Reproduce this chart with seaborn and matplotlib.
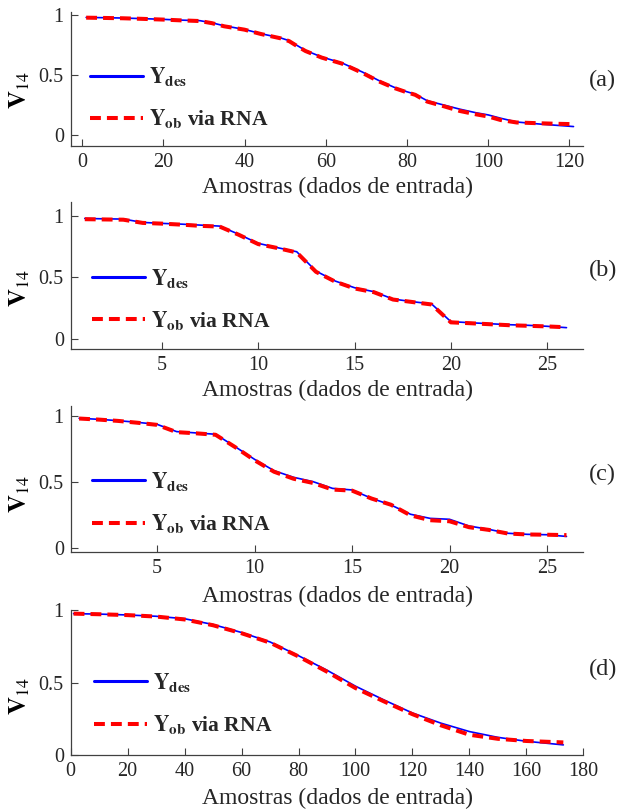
import matplotlib
matplotlib.use("Agg")
import matplotlib.pyplot as plt
import seaborn as sns

sns.set_style("ticks")
plt.rcParams["font.family"] = ["Liberation Serif", "DejaVu Serif"]
plt.rcParams["mathtext.fontset"] = "stix"

# (a)
x_a = [1, 5, 10, 15, 20, 24, 29, 32, 35, 40, 44, 49, 51, 53, 55, 59, 64, 69, 73, 77,
       80, 82, 85, 89, 93, 97, 100, 103, 107, 113, 117, 121]
des_a = [0.980, 0.978, 0.975, 0.970, 0.964, 0.958, 0.953, 0.935, 0.910, 0.880, 0.845,
         0.808, 0.786, 0.745, 0.705, 0.650, 0.600, 0.525, 0.455, 0.395, 0.360, 0.340,
         0.285, 0.250, 0.215, 0.185, 0.167, 0.140, 0.108, 0.090, 0.080, 0.070]
ob_a = [0.978, 0.976, 0.973, 0.968, 0.962, 0.956, 0.950, 0.932, 0.906, 0.878, 0.842,
        0.805, 0.782, 0.740, 0.700, 0.645, 0.595, 0.518, 0.448, 0.390, 0.355, 0.335,
        0.278, 0.240, 0.200, 0.172, 0.154, 0.125, 0.104, 0.097, 0.093, 0.090]

# (b)
x_b = list(range(1, 27))
des_b = [0.978, 0.975, 0.973, 0.946, 0.938, 0.932, 0.924, 0.916, 0.849, 0.776, 0.741,
         0.708, 0.551, 0.470, 0.416, 0.384, 0.324, 0.303, 0.284, 0.141, 0.132, 0.124,
         0.116, 0.111, 0.103, 0.092]
ob_b = [0.972, 0.970, 0.968, 0.942, 0.936, 0.928, 0.918, 0.912, 0.845, 0.770, 0.738,
        0.702, 0.545, 0.465, 0.410, 0.380, 0.320, 0.300, 0.280, 0.135, 0.128, 0.120,
        0.112, 0.107, 0.102, 0.095]

# (c)
x_c = list(range(1, 27))
des_c = [0.980, 0.972, 0.962, 0.949, 0.934, 0.879, 0.869, 0.859, 0.765, 0.669, 0.583,
         0.533, 0.500, 0.449, 0.437, 0.374, 0.323, 0.253, 0.222, 0.215, 0.164, 0.139,
         0.109, 0.101, 0.098, 0.085]
ob_c = [0.978, 0.970, 0.960, 0.946, 0.930, 0.875, 0.866, 0.855, 0.762, 0.662, 0.575,
        0.522, 0.490, 0.440, 0.432, 0.372, 0.325, 0.245, 0.208, 0.200, 0.155, 0.135,
        0.107, 0.100, 0.098, 0.095]

# (d)
x_d = [1, 10, 20, 30, 40, 50, 60, 70, 80, 90, 100, 110, 120, 130, 140, 150, 160, 173]
des_d = [0.975, 0.972, 0.966, 0.957, 0.940, 0.900, 0.845, 0.780, 0.685, 0.585, 0.475,
         0.380, 0.290, 0.220, 0.162, 0.122, 0.095, 0.070]
ob_d = [0.975, 0.971, 0.965, 0.955, 0.935, 0.895, 0.840, 0.775, 0.680, 0.575, 0.462,
        0.370, 0.282, 0.205, 0.140, 0.112, 0.097, 0.087]

xticks_a = [0, 20, 40, 60, 80, 100, 120]
xticks_bc = [5, 10, 15, 20, 25]
xticks_d = [0, 20, 40, 60, 80, 100, 120, 140, 160, 180]
yticks = [0, 0.5, 1]
ytick_labels = ["0", "0.5", "1"]
letters = ["(a)", "(b)", "(c)", "(d)"]

panels = [
    dict(x=x_a, des=des_a, ob=ob_a, xt=xticks_a, xlim=(-2.8, 123.4), ylim=(-0.092, 1.028),
         pos=[0.1137, 0.8200, 0.824, 0.1656], leg=(0.038, 0.359), let_y=0.901,
         yl_y=0.889, xl_y=0.769),
    dict(x=x_b, des=des_b, ob=ob_b, xt=xticks_bc, xlim=(0.27, 26.87), ylim=(-0.081, 1.114),
         pos=[0.1137, 0.5697, 0.824, 0.1816], leg=(0.042, 0.337), let_y=0.666,
         yl_y=0.645, xl_y=0.519),
    dict(x=x_c, des=des_c, ob=ob_c, xt=xticks_bc, xlim=(0.57, 26.86), ylim=(-0.035, 1.073),
         pos=[0.1137, 0.3190, 0.824, 0.1804], leg=(0.042, 0.339), let_y=0.4155,
         yl_y=0.390, xl_y=0.264),
    dict(x=x_d, des=des_d, ob=ob_d, xt=xticks_d, xlim=(0, 180), ylim=(0, 1),
         pos=[0.1137, 0.0690, 0.824, 0.1788], leg=(0.046, 0.354), let_y=0.174,
         yl_y=0.142, xl_y=0.0157),
]

fig = plt.figure(figsize=(6.22, 8.11), dpi=100)
axis_col = "#404040"
text_col = "#262626"

for p, letter in zip(panels, letters):
    ax = fig.add_axes(p["pos"])
    sns.lineplot(x=p["x"], y=p["des"], ax=ax, color="#0000ff", lw=1.2,
                 label=r"$\mathbf{Y}_{\mathbf{des}}$")
    sns.lineplot(x=p["x"], y=p["ob"], ax=ax, color="#ff0000", lw=2.9,
                 linestyle=(0, (2.7, 1.5)), label=r"$\mathbf{Y}_{\mathbf{ob}}$ via RNA")
    ax.set_xlim(*p["xlim"])
    ax.set_ylim(*p["ylim"])
    ax.set_xticks(p["xt"])
    ax.set_yticks(yticks)
    ax.set_yticklabels(ytick_labels)
    ax.set_xlabel("")
    ax.set_ylabel("")
    sns.despine(ax=ax)
    for s in ["left", "bottom"]:
        ax.spines[s].set_color(axis_col)
        ax.spines[s].set_linewidth(0.9)
    ax.tick_params(direction="in", length=5, width=0.8, color=axis_col,
                   labelcolor=text_col, labelsize=14.5, pad=5)

    leg = ax.legend(loc="center left", bbox_to_anchor=p["leg"], frameon=False,
                    borderpad=0, borderaxespad=0, handlelength=2.45,
                    handletextpad=0.3, labelspacing=0.9,
                    prop={"weight": "bold", "size": 15.5})
    leg.get_lines()[0].set_linewidth(2.2)

    fig.text(0.969, p["let_y"], letter, ha="center", va="center", fontsize=17.5,
             color=text_col)
    fig.text(0.032, p["yl_y"], r"$\mathbf{V}_{14}$", ha="center", va="center",
             rotation=90, fontsize=18, color="black")
    fig.text(0.542, p["xl_y"], "Amostras (dados de entrada)", ha="center",
             va="center", fontsize=17, color=text_col)

fig.savefig("out.png", dpi=100)
